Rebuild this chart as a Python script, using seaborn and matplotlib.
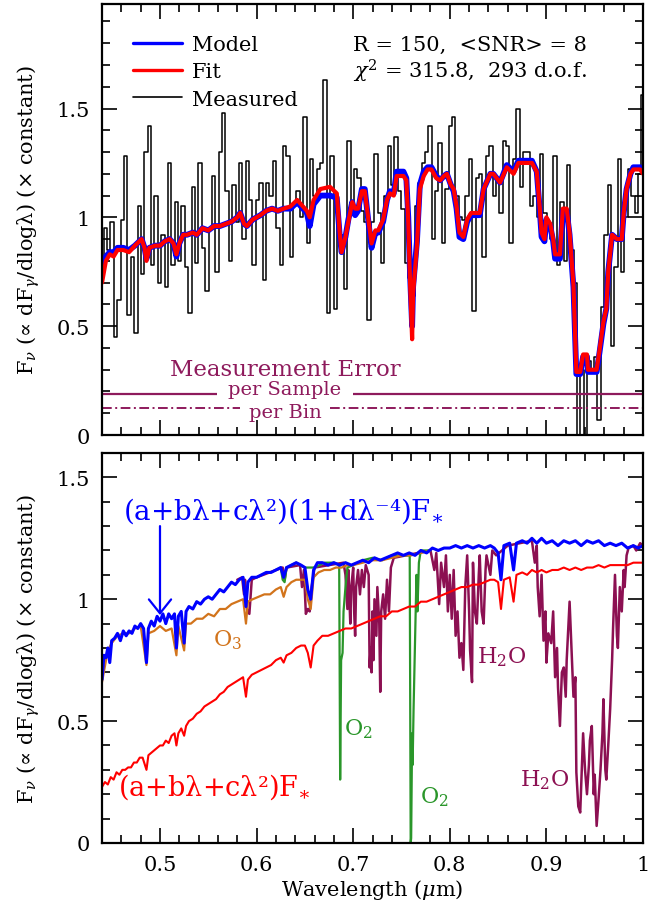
import numpy as np
import matplotlib
matplotlib.use("Agg")
import matplotlib.pyplot as plt
import seaborn as sns
from matplotlib.ticker import MultipleLocator, FuncFormatter

sns.set_style("ticks")
plt.rcParams["font.family"] = ["DejaVu Serif"]
plt.rcParams["mathtext.fontset"] = "dejavuserif"
plt.rcParams.update({"text.color": "black", "axes.labelcolor": "black",
                     "xtick.color": "black", "ytick.color": "black",
                     "axes.edgecolor": "black"})

# ---------------- top panel: binned measured spectrum + model / fit
meas_wl = np.round(0.44 + 0.0035 * np.arange(161), 4)   # bin centres (um)
meas_flux = [
    0.75, 0.95, 0.85, 0.98, 0.45, 0.62, 0.99, 1.28, 0.55, 0.82,
    0.47, 1.05, 0.74, 1.30, 1.42, 0.78, 1.10, 0.70, 0.92, 0.68,
    1.25, 0.78, 1.07, 0.80, 1.05, 0.77, 0.56, 1.14, 0.79, 1.25,
    0.86, 0.66, 0.95, 1.19, 0.75, 1.30, 1.48, 1.12, 0.80, 1.15,
    0.98, 1.25, 0.90, 1.26, 1.08, 0.78, 1.08, 1.16, 0.71, 1.16,
    1.10, 1.26, 0.95, 0.78, 1.33, 1.28, 0.82, 1.05, 1.12, 1.00,
    1.46, 0.88, 1.27, 1.10, 1.22, 1.25, 1.63, 0.56, 1.28, 0.58,
    0.98, 0.92, 0.67, 1.35, 1.05, 1.22, 1.18, 1.03, 0.98, 0.53,
    0.98, 1.29, 1.02, 0.79, 1.10, 1.33, 1.15, 1.37, 1.12, 1.04,
    0.79, 0.72, 0.64, 1.05, 1.16, 1.25, 1.30, 1.42, 0.90, 1.12,
    1.34, 0.88, 1.13, 1.42, 1.46, 1.10, 1.00, 0.99, 1.10, 1.27,
    0.57, 1.18, 1.20, 0.82, 1.28, 1.33, 1.10, 1.17, 1.02, 1.35,
    1.33, 0.88, 1.27, 1.50, 1.14, 1.30, 1.30, 1.05, 1.10, 1.00,
    1.29, 1.02, 0.94, 0.90, 1.28, 0.78, 1.07, 0.80, 1.24, 0.85,
    0.70, -0.05, 0.30, -0.05, 0.34, 0.30, 0.36, 0.07, 0.59, 0.92,
    1.15, 0.41, 0.77, 1.27, 0.75, 1.00, 1.22, 1.10, 1.02, 1.20, 1.56,
]

fit_pts = [
    (0.440, 0.70), (0.444, 0.80), (0.448, 0.83), (0.452, 0.82), (0.456, 0.85),
    (0.462, 0.85), (0.468, 0.84), (0.474, 0.87), (0.481, 0.90), (0.484, 0.86),
    (0.486, 0.80), (0.489, 0.86), (0.495, 0.87), (0.500, 0.87), (0.505, 0.89),
    (0.510, 0.90), (0.514, 0.88), (0.517, 0.83), (0.520, 0.88), (0.524, 0.92),
    (0.528, 0.92), (0.534, 0.93), (0.538, 0.92), (0.544, 0.95), (0.550, 0.94),
    (0.556, 0.96), (0.562, 0.96), (0.568, 0.97), (0.574, 0.98), (0.580, 1.00),
    (0.583, 1.02), (0.587, 0.97), (0.590, 0.96), (0.596, 0.99), (0.604, 1.01),
    (0.610, 1.03), (0.616, 1.04), (0.622, 1.03), (0.628, 1.04), (0.635, 1.05),
    (0.642, 1.08), (0.648, 1.05), (0.652, 1.03), (0.655, 1.00), (0.659, 1.08),
    (0.666, 1.13), (0.676, 1.14), (0.683, 1.11), (0.686, 0.93), (0.688, 0.84),
    (0.692, 0.91), (0.695, 0.98), (0.699, 1.07), (0.702, 1.04), (0.705, 1.04),
    (0.709, 1.12), (0.712, 1.12), (0.716, 0.98), (0.719, 0.88), (0.723, 0.94),
    (0.726, 0.94), (0.731, 0.99), (0.735, 1.08), (0.738, 1.11), (0.742, 1.10),
    (0.745, 1.19), (0.752, 1.19), (0.755, 1.17), (0.757, 0.98), (0.759, 0.68),
    (0.761, 0.44), (0.762, 0.65), (0.766, 0.87), (0.769, 1.13), (0.773, 1.19),
    (0.777, 1.22), (0.781, 1.22), (0.786, 1.18), (0.790, 1.17), (0.794, 1.19),
    (0.797, 1.20), (0.801, 1.15), (0.804, 1.13), (0.807, 1.05), (0.810, 0.93),
    (0.814, 0.91), (0.818, 0.99), (0.822, 1.02), (0.831, 1.02), (0.835, 1.13),
    (0.842, 1.20), (0.845, 1.20), (0.852, 1.16), (0.859, 1.23), (0.866, 1.20),
    (0.871, 1.25), (0.885, 1.25), (0.890, 1.21), (0.893, 1.05), (0.895, 0.93),
    (0.898, 0.90), (0.900, 1.00), (0.904, 0.97), (0.907, 0.90), (0.909, 0.83),
    (0.914, 0.83), (0.917, 1.04), (0.921, 1.04), (0.924, 0.93), (0.928, 0.69),
    (0.930, 0.42), (0.931, 0.29), (0.935, 0.29), (0.938, 0.37), (0.942, 0.37),
    (0.943, 0.30), (0.952, 0.30), (0.955, 0.39), (0.959, 0.52), (0.962, 0.58),
    (0.964, 0.75), (0.968, 0.92), (0.973, 0.90), (0.978, 0.90), (0.980, 1.02),
    (0.983, 1.13), (0.987, 1.20), (0.990, 1.22), (0.997, 1.22), (1.000, 1.20),
]

model_pts = [
    (0.440, 0.77), (0.444, 0.82), (0.448, 0.84), (0.452, 0.84), (0.456, 0.86),
    (0.462, 0.86), (0.468, 0.85), (0.474, 0.87), (0.481, 0.90), (0.484, 0.86),
    (0.486, 0.81), (0.489, 0.86), (0.495, 0.87), (0.500, 0.87), (0.505, 0.89),
    (0.510, 0.90), (0.514, 0.88), (0.517, 0.82), (0.520, 0.88), (0.524, 0.92),
    (0.528, 0.92), (0.534, 0.93), (0.538, 0.92), (0.544, 0.95), (0.550, 0.94),
    (0.556, 0.96), (0.562, 0.96), (0.568, 0.97), (0.574, 0.98), (0.580, 1.00),
    (0.583, 1.02), (0.587, 0.97), (0.590, 0.96), (0.596, 0.99), (0.604, 1.01),
    (0.610, 1.03), (0.616, 1.04), (0.622, 1.03), (0.628, 1.04), (0.635, 1.04),
    (0.642, 1.07), (0.648, 1.04), (0.652, 1.02), (0.655, 0.96), (0.659, 1.06),
    (0.666, 1.10), (0.676, 1.10), (0.683, 1.09), (0.686, 0.92), (0.688, 0.84),
    (0.692, 0.91), (0.695, 0.99), (0.699, 1.07), (0.702, 1.01), (0.705, 1.03),
    (0.709, 1.13), (0.712, 1.13), (0.716, 0.97), (0.719, 0.86), (0.723, 0.93),
    (0.726, 0.93), (0.731, 0.98), (0.735, 1.08), (0.738, 1.12), (0.742, 1.11),
    (0.745, 1.21), (0.752, 1.21), (0.755, 1.18), (0.757, 1.00), (0.759, 0.72),
    (0.761, 0.50), (0.762, 0.68), (0.766, 0.89), (0.769, 1.15), (0.773, 1.21),
    (0.777, 1.23), (0.781, 1.23), (0.786, 1.19), (0.790, 1.17), (0.794, 1.19),
    (0.797, 1.20), (0.801, 1.15), (0.804, 1.12), (0.807, 1.04), (0.810, 0.91),
    (0.814, 0.90), (0.818, 0.98), (0.822, 1.01), (0.831, 1.01), (0.835, 1.13),
    (0.842, 1.20), (0.845, 1.20), (0.852, 1.16), (0.859, 1.24), (0.866, 1.21),
    (0.871, 1.26), (0.885, 1.26), (0.890, 1.21), (0.893, 1.04), (0.895, 0.91),
    (0.898, 0.89), (0.900, 0.99), (0.904, 0.96), (0.907, 0.89), (0.909, 0.81),
    (0.914, 0.81), (0.917, 1.03), (0.921, 1.03), (0.924, 0.92), (0.928, 0.68),
    (0.930, 0.41), (0.931, 0.28), (0.935, 0.28), (0.938, 0.36), (0.942, 0.36),
    (0.943, 0.29), (0.952, 0.29), (0.955, 0.38), (0.959, 0.51), (0.962, 0.58),
    (0.964, 0.75), (0.968, 0.92), (0.973, 0.90), (0.978, 0.90), (0.980, 1.02),
    (0.983, 1.13), (0.987, 1.20), (0.990, 1.23), (0.997, 1.23), (1.000, 1.21),
]

err_per_sample = 0.19
err_per_bin = 0.124

# ---------------- bottom panel: model components
star_tilt_rayleigh = [  # (a+b l+c l^2)(1+d l^-4) F*
    (0.440, 0.67), (0.442, 0.77), (0.444, 0.76), (0.446, 0.80), (0.448, 0.74),
    (0.450, 0.83), (0.453, 0.84), (0.456, 0.86), (0.459, 0.83), (0.462, 0.87),
    (0.465, 0.85), (0.468, 0.87), (0.471, 0.86), (0.474, 0.89), (0.477, 0.88),
    (0.480, 0.90), (0.483, 0.88), (0.486, 0.74), (0.488, 0.88), (0.491, 0.91),
    (0.494, 0.89), (0.497, 0.93), (0.500, 0.91), (0.503, 0.94), (0.506, 0.90),
    (0.509, 0.94), (0.512, 0.92), (0.515, 0.94), (0.517, 0.80), (0.519, 0.93),
    (0.522, 0.95), (0.525, 0.82), (0.527, 0.95), (0.530, 0.97), (0.534, 0.96),
    (0.538, 0.99), (0.542, 0.98), (0.546, 1.00), (0.550, 1.01), (0.554, 1.00),
    (0.558, 1.02), (0.562, 1.04), (0.566, 1.03), (0.570, 1.05), (0.574, 1.07),
    (0.578, 1.06), (0.582, 1.08), (0.586, 1.09), (0.589, 0.97), (0.591, 1.07),
    (0.595, 1.09), (0.600, 1.09), (0.605, 1.10), (0.610, 1.11), (0.615, 1.11),
    (0.620, 1.12), (0.625, 1.13), (0.628, 1.09), (0.631, 1.13), (0.636, 1.14),
    (0.641, 1.15), (0.646, 1.14), (0.650, 1.13), (0.653, 1.04), (0.656, 1.00),
    (0.659, 1.12), (0.663, 1.15), (0.668, 1.15), (0.674, 1.14), (0.680, 1.15),
    (0.686, 1.14), (0.692, 1.15), (0.698, 1.14), (0.704, 1.15), (0.710, 1.16),
    (0.716, 1.15), (0.722, 1.17), (0.728, 1.16), (0.734, 1.17), (0.740, 1.18),
    (0.746, 1.19), (0.752, 1.18), (0.758, 1.19), (0.764, 1.18), (0.770, 1.20),
    (0.776, 1.19), (0.782, 1.21), (0.788, 1.20), (0.794, 1.21), (0.800, 1.21),
    (0.806, 1.22), (0.812, 1.21), (0.818, 1.22), (0.824, 1.21), (0.830, 1.22),
    (0.836, 1.21), (0.842, 1.22), (0.846, 1.21), (0.850, 1.19), (0.853, 1.08),
    (0.856, 1.22), (0.862, 1.23), (0.866, 1.12), (0.869, 1.23), (0.875, 1.24),
    (0.880, 1.23), (0.885, 1.25), (0.890, 1.23), (0.895, 1.25), (0.900, 1.23),
    (0.906, 1.24), (0.912, 1.22), (0.918, 1.24), (0.924, 1.23), (0.930, 1.24),
    (0.936, 1.22), (0.942, 1.24), (0.948, 1.23), (0.954, 1.24), (0.960, 1.22),
    (0.966, 1.23), (0.972, 1.22), (0.978, 1.23), (0.984, 1.21), (0.990, 1.22),
    (0.995, 1.21), (1.000, 1.22),
]

with_o3 = [
    (0.440, 0.66), (0.446, 0.79), (0.450, 0.82), (0.456, 0.85), (0.462, 0.86),
    (0.468, 0.86), (0.474, 0.88), (0.480, 0.89), (0.486, 0.73), (0.488, 0.86),
    (0.494, 0.87), (0.500, 0.89), (0.506, 0.87), (0.512, 0.88), (0.517, 0.77),
    (0.519, 0.89), (0.525, 0.79), (0.527, 0.90), (0.532, 0.90), (0.538, 0.92),
    (0.544, 0.92), (0.550, 0.94), (0.556, 0.93), (0.562, 0.96), (0.568, 0.96),
    (0.574, 0.98), (0.580, 0.99), (0.586, 1.00), (0.589, 0.90), (0.591, 0.99),
    (0.596, 1.00), (0.602, 1.01), (0.608, 1.02), (0.614, 1.02), (0.620, 1.04),
    (0.625, 1.05), (0.628, 1.01), (0.631, 1.05), (0.636, 1.07), (0.641, 1.08),
    (0.646, 1.08), (0.650, 1.08), (0.653, 1.00), (0.656, 0.96), (0.659, 1.09),
    (0.664, 1.11), (0.670, 1.12), (0.676, 1.12), (0.682, 1.13), (0.688, 1.13),
    (0.694, 1.14), (0.700, 1.14), (0.710, 1.15), (0.720, 1.16), (0.730, 1.16),
    (0.740, 1.17), (0.750, 1.18), (0.760, 1.18), (0.770, 1.19), (0.780, 1.20),
]

with_o2 = [
    (0.620, 1.12), (0.625, 1.13), (0.627, 1.08), (0.629, 1.07), (0.631, 1.13),
    (0.641, 1.15), (0.650, 1.13), (0.660, 1.13), (0.670, 1.15), (0.680, 1.15),
    (0.6855, 1.14), (0.6865, 0.26), (0.6875, 0.75), (0.689, 0.78), (0.690, 0.95),
    (0.692, 1.05), (0.694, 1.13), (0.700, 1.14), (0.710, 1.16), (0.720, 1.17),
    (0.730, 1.16), (0.740, 1.18), (0.750, 1.18), (0.7585, 1.18), (0.7595, 0.0),
    (0.7600, 0.02), (0.7610, 0.45), (0.7615, 0.32), (0.7625, 0.55), (0.7655, 1.10),
    (0.7665, 0.95), (0.7680, 1.15), (0.770, 1.20), (0.780, 1.20),
]

with_h2o = [
    (0.580, 1.08), (0.585, 1.09), (0.587, 1.02), (0.588, 1.08), (0.590, 0.96),
    (0.5925, 0.94), (0.595, 1.08), (0.600, 1.09), (0.627, 1.13), (0.629, 1.08),
    (0.631, 1.13), (0.645, 1.14), (0.647, 1.05), (0.649, 1.12), (0.651, 0.94),
    (0.653, 0.96), (0.655, 0.95), (0.657, 1.05), (0.660, 1.13), (0.690, 1.15),
    (0.692, 1.10), (0.694, 0.96), (0.695, 1.12), (0.697, 0.90), (0.698, 1.05),
    (0.700, 1.13), (0.701, 0.95), (0.702, 0.85), (0.703, 1.05), (0.705, 1.12),
    (0.707, 1.02), (0.709, 1.12), (0.711, 1.05), (0.713, 1.14), (0.716, 1.10),
    (0.717, 0.72), (0.718, 0.80), (0.719, 0.70), (0.720, 0.95), (0.721, 0.75),
    (0.722, 1.00), (0.724, 0.85), (0.725, 1.05), (0.727, 0.90), (0.728, 0.62),
    (0.729, 0.95), (0.731, 1.02), (0.733, 0.92), (0.735, 1.08), (0.737, 0.95),
    (0.739, 1.13), (0.742, 1.17), (0.780, 1.20), (0.784, 1.12), (0.786, 1.19),
    (0.789, 0.98), (0.791, 1.15), (0.794, 1.05), (0.796, 1.18), (0.798, 0.95),
    (0.800, 1.10), (0.802, 0.92), (0.804, 1.12), (0.806, 0.85), (0.808, 0.95),
    (0.810, 0.76), (0.812, 0.82), (0.814, 0.71), (0.816, 1.05), (0.818, 1.18),
    (0.820, 0.95), (0.821, 0.79), (0.823, 0.66), (0.824, 1.15), (0.826, 0.95),
    (0.828, 0.90), (0.830, 1.10), (0.831, 1.18), (0.833, 0.95), (0.835, 0.90),
    (0.837, 1.12), (0.838, 1.18), (0.842, 1.10), (0.844, 1.20), (0.848, 1.18),
    (0.860, 1.22), (0.885, 1.24), (0.888, 1.15), (0.890, 1.22), (0.891, 1.05),
    (0.893, 0.93), (0.895, 1.10), (0.897, 0.83), (0.899, 0.95), (0.900, 0.74),
    (0.902, 0.86), (0.905, 0.82), (0.907, 0.95), (0.909, 0.68), (0.911, 0.80),
    (0.912, 0.64), (0.914, 0.48), (0.916, 0.70), (0.918, 0.72), (0.920, 0.60),
    (0.921, 0.75), (0.924, 0.99), (0.926, 0.80), (0.928, 0.60), (0.930, 0.68),
    (0.931, 0.29), (0.933, 0.15), (0.935, 0.125), (0.937, 0.35), (0.938, 0.45),
    (0.940, 0.30), (0.942, 0.20), (0.944, 0.32), (0.945, 0.42), (0.947, 0.48),
    (0.949, 0.20), (0.950, 0.28), (0.952, 0.07), (0.954, 0.18), (0.956, 0.30),
    (0.958, 0.45), (0.959, 0.59), (0.961, 0.30), (0.962, 0.26), (0.964, 0.40),
    (0.966, 0.55), (0.968, 0.75), (0.969, 0.88), (0.971, 1.10), (0.973, 0.85),
    (0.974, 0.80), (0.976, 1.05), (0.978, 0.95), (0.980, 1.12), (0.981, 1.05),
    (0.983, 1.18), (0.985, 1.21), (0.990, 1.22), (0.993, 1.20), (0.997, 1.23),
    (1.000, 1.22),
]

star_tilt = [  # (a+b l+c l^2) F*
    (0.440, 0.23), (0.443, 0.25), (0.446, 0.24), (0.449, 0.27), (0.452, 0.26),
    (0.455, 0.29), (0.458, 0.28), (0.461, 0.30), (0.464, 0.30), (0.467, 0.31),
    (0.470, 0.31), (0.473, 0.33), (0.476, 0.33), (0.479, 0.35), (0.482, 0.35),
    (0.486, 0.30), (0.488, 0.36), (0.491, 0.37), (0.494, 0.38), (0.497, 0.39),
    (0.500, 0.40), (0.503, 0.40), (0.506, 0.42), (0.509, 0.41), (0.512, 0.44),
    (0.515, 0.45), (0.517, 0.40), (0.519, 0.45), (0.522, 0.47), (0.525, 0.44),
    (0.527, 0.48), (0.530, 0.50), (0.534, 0.51), (0.538, 0.53), (0.542, 0.54),
    (0.546, 0.56), (0.550, 0.57), (0.554, 0.58), (0.558, 0.59), (0.562, 0.61),
    (0.566, 0.62), (0.570, 0.64), (0.574, 0.65), (0.578, 0.66), (0.582, 0.67),
    (0.586, 0.68), (0.589, 0.60), (0.591, 0.67), (0.595, 0.69), (0.600, 0.70),
    (0.605, 0.71), (0.610, 0.72), (0.615, 0.73), (0.620, 0.75), (0.625, 0.76),
    (0.628, 0.74), (0.631, 0.77), (0.636, 0.78), (0.641, 0.80), (0.646, 0.81),
    (0.650, 0.81), (0.653, 0.78), (0.656, 0.72), (0.659, 0.81), (0.663, 0.83),
    (0.668, 0.85), (0.674, 0.85), (0.680, 0.86), (0.686, 0.87), (0.692, 0.88),
    (0.698, 0.88), (0.704, 0.89), (0.710, 0.90), (0.716, 0.91), (0.722, 0.92),
    (0.728, 0.93), (0.734, 0.93), (0.740, 0.95), (0.746, 0.95), (0.752, 0.96),
    (0.758, 0.97), (0.764, 0.97), (0.770, 0.99), (0.776, 0.99), (0.782, 1.00),
    (0.788, 1.01), (0.794, 1.02), (0.800, 1.03), (0.806, 1.04), (0.812, 1.05),
    (0.818, 1.05), (0.824, 1.06), (0.830, 1.06), (0.836, 1.07), (0.842, 1.08),
    (0.846, 1.08), (0.850, 1.07), (0.853, 0.96), (0.856, 1.08), (0.862, 1.09),
    (0.866, 0.99), (0.869, 1.10), (0.875, 1.11), (0.880, 1.10), (0.885, 1.12),
    (0.890, 1.11), (0.895, 1.12), (0.900, 1.11), (0.906, 1.12), (0.912, 1.12),
    (0.918, 1.13), (0.924, 1.12), (0.930, 1.13), (0.936, 1.12), (0.942, 1.13),
    (0.948, 1.13), (0.954, 1.14), (0.960, 1.13), (0.966, 1.14), (0.972, 1.14),
    (0.978, 1.14), (0.984, 1.14), (0.990, 1.15), (0.995, 1.15), (1.000, 1.15),
]

BLUE, RED, ORANGE, GREEN, PURPLE = "#0000ff", "#ff0000", "#d2741c", "#2a962a", "#8c1052"
ERRC = "#8e1a5c"
FS = 15
DASHDOT = (0, (5, 1.8, 1, 1.8))


def curve(ax, pts, **kw):
    x, y = zip(*pts)
    sns.lineplot(x=list(x), y=list(y), ax=ax, sort=False, estimator=None, **kw)
    return ax.lines[-1]


fig = plt.figure(figsize=(6.57, 9.12), dpi=100)
ax1 = fig.add_axes([0.1553, 0.5219, 0.8234, 0.4726])
ax2 = fig.add_axes([0.1553, 0.0746, 0.8234, 0.4276])

# ---- top
sns.lineplot(x=meas_wl, y=meas_flux, ax=ax1, sort=False, estimator=None,
             drawstyle="steps-mid", color="black", linewidth=1.1)
h_meas = ax1.lines[-1]
h_model = curve(ax1, model_pts, color=BLUE, linewidth=4.2)
h_fit = curve(ax1, fit_pts, color=RED, linewidth=3.0)

ax1.hlines(err_per_sample, 0.44, 0.559, color=ERRC, lw=1.6)
ax1.hlines(err_per_sample, 0.6998, 1.0, color=ERRC, lw=1.6)
ax1.hlines(err_per_bin, 0.44, 0.583, color=ERRC, lw=1.4, linestyle=DASHDOT)
ax1.hlines(err_per_bin, 0.676, 1.0, color=ERRC, lw=1.4, linestyle=DASHDOT)
ax1.text(0.6294, 0.302, "Measurement Error", color=ERRC, fontsize=16.5, ha="center", va="center")
ax1.text(0.6294, 0.213, "per Sample", color=ERRC, fontsize=14, ha="center", va="center")
ax1.text(0.6294, 0.108, "per Bin", color=ERRC, fontsize=14, ha="center", va="center")

leg = ax1.legend([h_model, h_fit, h_meas], ["Model", "Fit", "Measured"],
                 loc="upper left", bbox_to_anchor=(0.057, 0.928), frameon=False,
                 handlelength=2.35, handletextpad=0.5, labelspacing=0.4,
                 borderpad=0, borderaxespad=0, fontsize=FS)
for ln, w in zip(leg.get_lines(), [2.4, 2.4, 1.2]):
    ln.set_linewidth(w)

ax1.text(0.464, 0.907, "R = 150,  <SNR> = 8", transform=ax1.transAxes,
         fontsize=FS, va="center", ha="left")
ax1.text(0.464, 0.847, r"$\chi^2$ = 315.8,  293 d.o.f.", transform=ax1.transAxes,
         fontsize=FS, va="center", ha="left")

ax1.set_ylim(0, 1.98)

# ---- bottom
curve(ax2, with_h2o, color=PURPLE, linewidth=1.8)
curve(ax2, with_o2, color=GREEN, linewidth=1.6)
curve(ax2, with_o3, color=ORANGE, linewidth=1.6)
curve(ax2, star_tilt_rayleigh, color=BLUE, linewidth=2.2)
curve(ax2, star_tilt, color=RED, linewidth=1.5)

ax2.annotate("", xy=(0.5, 0.935), xytext=(0.5, 1.30),
             arrowprops=dict(arrowstyle="->,head_length=0.5,head_width=0.4",
                             color=BLUE, lw=1.6, mutation_scale=20, shrinkA=0, shrinkB=0))
ax2.text(0.4617, 1.367, "(a+bλ+cλ²)(1+dλ⁻⁴)F" + r"$_{\ast}$",
         color=BLUE, fontsize=20, ha="left", va="center")
ax2.text(0.4566, 0.233, "(a+bλ+cλ²)F" + r"$_{\ast}$",
         color=RED, fontsize=19.5, ha="left", va="center")
ax2.text(0.570, 0.835, r"O$_3$", color=ORANGE, fontsize=16, ha="center", va="center")
ax2.text(0.705, 0.47, r"O$_2$", color=GREEN, fontsize=16, ha="center", va="center")
ax2.text(0.784, 0.19, r"O$_2$", color=GREEN, fontsize=16, ha="center", va="center")
ax2.text(0.854, 0.765, r"H$_2$O", color=PURPLE, fontsize=16, ha="center", va="center")
ax2.text(0.8976, 0.26, r"H$_2$O", color=PURPLE, fontsize=16, ha="center", va="center")

ax2.set_ylim(0, 1.6)

ylab = r"F$_\nu$ (∝ dF$_\gamma$/dlogλ) (× constant)"
fmt = FuncFormatter(lambda v, p: f"{v:g}")
for ax in (ax1, ax2):
    ax.set_xlim(0.44, 1.0)
    ax.xaxis.set_major_locator(MultipleLocator(0.1))
    ax.xaxis.set_minor_locator(MultipleLocator(0.02))
    ax.yaxis.set_major_locator(MultipleLocator(0.5))
    ax.yaxis.set_minor_locator(MultipleLocator(0.1))
    ax.yaxis.set_major_formatter(fmt)
    ax.xaxis.set_major_formatter(fmt)
    ax.tick_params(which="both", direction="in", top=True, right=True, width=1.2,
                   labelsize=FS, pad=9)
    ax.tick_params(which="major", length=11)
    ax.tick_params(which="minor", length=6)
    for s in ax.spines.values():
        s.set_linewidth(1.6)
    ax.set_ylabel(ylab, fontsize=FS, labelpad=10)
    ax.set_xlabel("")

ax1.tick_params(labelbottom=False)
ax2.set_xlabel(r"Wavelength ($\mu$m)", fontsize=FS, labelpad=2)

fig.savefig("out.png", dpi=100)
